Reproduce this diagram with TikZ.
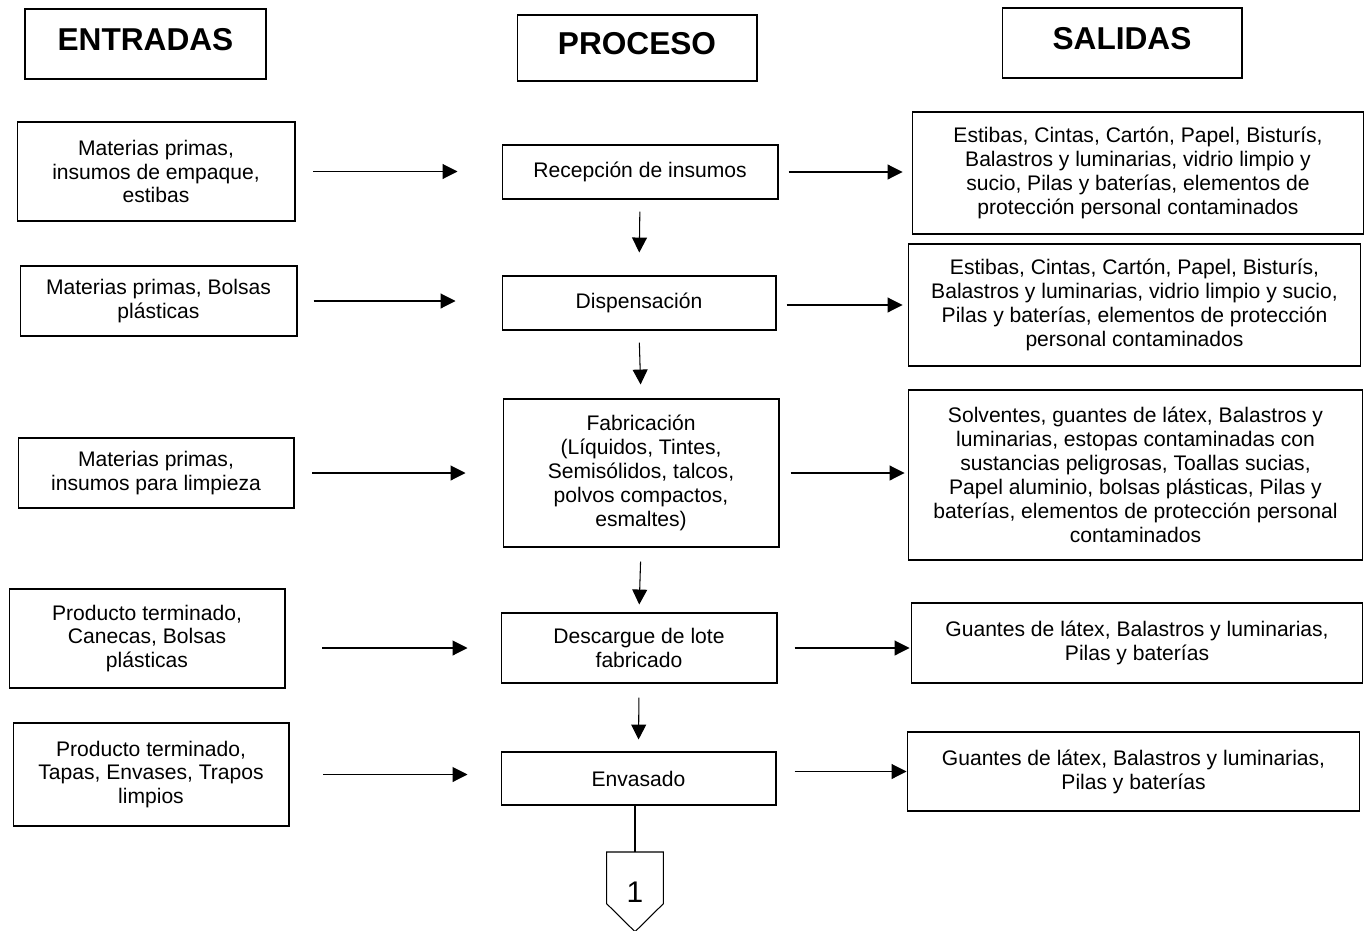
\documentclass[tikz,border=0pt]{standalone}
\usepackage{fontspec}
\setmainfont{Liberation Sans}
\usetikzlibrary{positioning, arrows.meta}

\tikzset{
  caja/.style={draw, line width=0.6pt, align=center, inner sep=2pt, font=\fontsize{12}{13.6}\selectfont},
  titulo/.style={draw, line width=0.6pt, font=\fontsize{18}{21}\selectfont\bfseries, text height=13pt, text depth=6pt},
  flecha/.style={-{Triangle[length=8.5pt,width=8.5pt]}, line width=0.6pt},
}

\begin{document}
\begin{tikzpicture}[x=0.02cm, y=-0.02cm]
    \useasboundingbox (0,0) rectangle (1366,930);

    % Titulos
    \node[titulo, minimum width=4.82cm, minimum height=1.40cm] (hEnt) at (145.5,44) {ENTRADAS};
    \node[titulo, minimum width=4.80cm, minimum height=1.32cm] (hPro) at (637,48) {PROCESO};
    \node[titulo, minimum width=4.80cm, minimum height=1.40cm] (hSal) at (1122,43) {SALIDAS};

    % Entradas
    \node[caja, minimum width=5.56cm, minimum height=1.98cm] (ent1) at (156,171.5) {Materias primas,\\ insumos de empaque,\\ estibas};
    \node[caja, minimum width=5.54cm, minimum height=1.40cm] (ent2) at (158.5,301) {Materias primas, Bolsas\\ plásticas};
    \node[caja, minimum width=5.52cm, minimum height=1.40cm] (ent3) at (156,473) {Materias primas,\\ insumos para limpieza};
    \node[caja, minimum width=5.52cm, minimum height=1.98cm] (ent4) at (147,638.5) {Producto terminado,\\ Canecas, Bolsas\\ plásticas};
    \node[caja, minimum width=5.52cm, minimum height=2.06cm] (ent5) at (151,774.5) {Producto terminado,\\ Tapas, Envases, Trapos\\ limpios};

    % Proceso
    \node[caja, minimum width=5.52cm, minimum height=1.08cm] (pro1) at (640,172) {Recepción de insumos};
    \node[caja, minimum width=5.48cm, minimum height=1.08cm] (pro2) at (639,303) {Dispensación};
    \node[caja, minimum width=5.52cm, minimum height=2.96cm] (pro3) at (641,473) {Fabricación\\ (Líquidos, Tintes,\\ Semisólidos, talcos,\\ polvos compactos,\\ esmaltes)};
    \node[caja, minimum width=5.52cm, minimum height=1.40cm] (pro4) at (639,648) {Descargue de lote\\ fabricado};
    \node[caja, minimum width=5.50cm, minimum height=1.06cm] (pro5) at (638.5,778.5) {Envasado};

    % Salidas
    \node[caja, minimum width=9.04cm, minimum height=2.44cm] (sal1) at (1138,173) {Estibas, Cintas, Cartón, Papel, Bisturís,\\ Balastros y luminarias, vidrio limpio y\\ sucio, Pilas y baterías, elementos de\\ protección personal contaminados};
    \node[caja, minimum width=9.06cm, minimum height=2.44cm] (sal2) at (1134.5,305) {Estibas, Cintas, Cartón, Papel, Bisturís,\\ Balastros y luminarias, vidrio limpio y sucio,\\ Pilas y baterías, elementos de protección\\ personal contaminados};
    \node[caja, minimum width=9.10cm, minimum height=3.40cm] (sal3) at (1135.5,475) {Solventes, guantes de látex, Balastros y\\ luminarias, estopas contaminadas con\\ sustancias peligrosas, Toallas sucias,\\ Papel aluminio, bolsas plásticas, Pilas y\\ baterías, elementos de protección personal\\ contaminados};
    \node[caja, minimum width=9.04cm, minimum height=1.60cm] (sal4) at (1137,643) {Guantes de látex, Balastros y luminarias,\\ Pilas y baterías};
    \node[caja, minimum width=9.06cm, minimum height=1.58cm] (sal5) at (1133.5,771.5) {Guantes de látex, Balastros y luminarias,\\ Pilas y baterías};

    % Entradas -> proceso
    \draw[flecha, shorten <=0.36cm, shorten >=0.88cm] (ent1.east) -- (ent1.east -| pro1.west);
    \draw[flecha, shorten <=0.32cm, shorten >=0.92cm] (ent2.east) -- (ent2.east -| pro2.west);
    \draw[flecha, shorten <=0.36cm, shorten >=0.74cm] (ent3.east) -- (ent3.east -| pro3.west);
    \draw[flecha, shorten <=0.74cm, shorten >=0.66cm] (pro4.west -| ent4.east) -- (pro4.west);
    \draw[flecha, shorten <=0.68cm, shorten >=0.66cm] (ent5.east) -- (ent5.east -| pro5.west);

    % Proceso -> salidas
    \draw[flecha, shorten <=0.20cm, shorten >=0.18cm] (pro1.east) -- (pro1.east -| sal1.west);
    \draw[flecha, shorten <=0.20cm, shorten >=0.10cm] (sal2.west -| pro2.east) -- (sal2.west);
    \draw[flecha, shorten <=0.22cm, shorten >=0.06cm] (pro3.east) -- (pro3.east -| sal3.west);
    \draw[flecha, shorten <=0.34cm, shorten >=0.02cm] (pro4.east) -- (pro4.east -| sal4.west);
    \draw[flecha, shorten <=0.36cm] (sal5.west -| pro5.east) -- (sal5.west);

    % Secuencia del proceso
    \draw[flecha, shorten <=0.24cm, shorten >=0.46cm] (pro1.south) -- (pro2.north);
    \draw[flecha, shorten <=0.24cm, shorten >=0.28cm] (pro2.south) -- (pro3.north);
    \draw[flecha, shorten <=0.28cm, shorten >=0.16cm] (pro3.south) -- (pro4.north);
    \draw[flecha, shorten <=0.28cm, shorten >=0.24cm] (pro4.south) -- (pro5.north);

    % Conector de pagina
    \node[minimum width=1.12cm, minimum height=1.58cm, anchor=north, inner sep=0pt, font=\fontsize{17}{20}\selectfont] (con1) at (635,852) {1};
    \draw[line width=0.6pt] (con1.north west) -- (con1.north east) -- ([yshift=0.56cm]con1.south east)
        -- (con1.south) -- ([yshift=0.56cm]con1.south west) -- cycle;
    \draw[line width=0.6pt] (pro5.south -| con1.north) -- (con1.north);

\end{tikzpicture}
\end{document}
